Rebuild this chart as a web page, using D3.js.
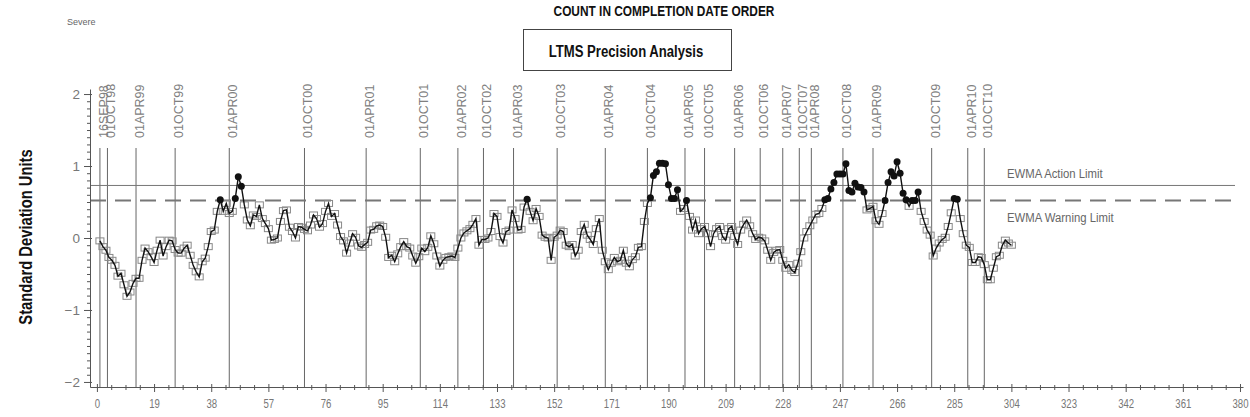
<!DOCTYPE html>
<html>
<head>
<meta charset="utf-8">
<script src="https://cdn.jsdelivr.net/npm/d3@7"></script>
<style>
  body { margin: 0; background: #fff; }
  svg { display: block; }
</style>
</head>
<body>
<div id="chart"></div>
<script>
// EWMA values, one per test in completion date order (count 1..304)
const ewma = [
  -0.04, -0.12, -0.17, -0.27, -0.31, -0.38, -0.53, -0.49, -0.65, -0.81,
  -0.75, -0.63, -0.56, -0.56, -0.31, -0.14, -0.19, -0.26, -0.34, -0.17,
  -0.03, -0.25, -0.12, -0.03, -0.04, -0.16, -0.21, -0.21, -0.14, -0.10,
  -0.24, -0.38, -0.47, -0.54, -0.33, -0.28, -0.12, 0.09, 0.11, 0.37,
  0.53, 0.37, 0.48, 0.34, 0.37, 0.55, 0.85, 0.72, 0.46, 0.25,
  0.17, 0.32, 0.30, 0.46, 0.27, 0.20, 0.13, -0.03, -0.02, 0.00,
  0.23, 0.38, 0.39, 0.15, 0.09, 0.00, 0.16, 0.15, 0.12, 0.10,
  0.18, 0.32, 0.27, 0.15, 0.20, 0.37, 0.48, 0.30, 0.34, 0.18,
  0.02, -0.04, -0.21, -0.07, 0.06, 0.01, -0.11, -0.13, -0.09, -0.06,
  0.11, 0.12, 0.17, 0.18, 0.16, 0.01, -0.27, -0.24, -0.33, -0.22,
  -0.12, -0.05, -0.12, -0.14, -0.25, -0.35, -0.26, -0.14, -0.19, -0.13,
  0.03, -0.08, -0.25, -0.39, -0.31, -0.27, -0.26, -0.25, -0.27, -0.14,
  0.00, 0.07, 0.10, 0.13, 0.19, 0.27, -0.10, -0.02, -0.02, 0.00,
  0.09, 0.34, 0.30, 0.02, -0.07, 0.09, 0.11, 0.39, 0.27, 0.11,
  0.12, 0.43, 0.54, 0.37, 0.24, 0.41, 0.30, 0.04, 0.01, 0.00,
  -0.31, 0.01, 0.04, 0.11, 0.09, -0.10, -0.12, -0.09, -0.25, -0.17,
  0.09, 0.19, 0.04, -0.02, -0.09, 0.13, 0.27, -0.17, -0.33, -0.44,
  -0.35, -0.27, -0.33, -0.31, -0.17, -0.35, -0.40, -0.30, -0.26, -0.13,
  -0.12, 0.23, 0.48, 0.56, 0.87, 0.92, 1.04, 1.04, 1.03, 0.74,
  0.55, 0.55, 0.67, 0.37, 0.41, 0.52, 0.30, 0.11, 0.25, 0.06,
  0.13, 0.16, 0.06, -0.12, 0.06, 0.13, 0.16, 0.02, -0.03, 0.13,
  0.16, 0.02, -0.09, 0.11, 0.19, 0.25, 0.17, 0.06, -0.02, 0.01,
  0.00, -0.04, -0.17, -0.31, -0.20, -0.17, -0.16, -0.31, -0.42, -0.37,
  -0.45, -0.48, -0.35, -0.19, 0.00, 0.09, 0.17, 0.25, 0.33, 0.34,
  0.41, 0.53, 0.55, 0.68, 0.77, 0.89, 0.89, 0.89, 1.03, 0.66,
  0.64, 0.76, 0.71, 0.70, 0.64, 0.39, 0.41, 0.44, 0.24, 0.19,
  0.34, 0.52, 0.77, 0.92, 0.86, 1.06, 0.90, 0.62, 0.53, 0.44,
  0.52, 0.52, 0.64, 0.37, 0.23, 0.11, 0.04, -0.25, -0.14, -0.07,
  -0.02, 0.01, 0.16, 0.35, 0.55, 0.54, 0.27, 0.06, -0.10, -0.13,
  -0.34, -0.34, -0.26, -0.27, -0.37, -0.58, -0.58, -0.42, -0.26, -0.24,
  -0.10, -0.03, -0.07, -0.10
];

// date reference lines: label and the count where it falls
const dateLabels = ["16SEP98", "01OCT98", "01APR99", "01OCT99", "01APR00", "01OCT00",
  "01APR01", "01OCT01", "01APR02", "01OCT02", "01APR03", "01OCT03", "01APR04",
  "01OCT04", "01APR05", "01OCT05", "01APR06", "01OCT06", "01APR07", "01OCT07",
  "01APR08", "01OCT08", "01APR09", "01OCT09", "01APR10", "01OCT10"];
const dateCounts = [1, 3.5, 13, 26, 44, 69, 89.5, 107.5, 120, 128.5, 138.5, 153, 169,
  183, 195.5, 202, 212, 220.5, 228, 233.5, 237.5, 248, 258, 277.5, 289.5, 295];

const xTicks = [0, 19, 38, 57, 76, 95, 114, 133, 152, 171, 190, 209, 228, 247, 266, 285, 304, 323, 342, 361, 380];
const yTicks = [-2, -1, 0, 1, 2];

const actionLimit = 0.73;
const warningLimit = 0.52;

// Dimensions
const W = 1250, H = 417;
const svg = d3.select("#chart").append("svg")
  .attr("width", W).attr("height", H);

const x = d3.scaleLinear().domain([-2.3, 381]).range([90, 1243]);
const y = d3.scaleLinear().domain([-2.07, 2.07]).range([387, 89]);

const points = ewma.map((v, i) => ({count: i + 1, value: v}));

const sans = "'Liberation Sans', Arial, sans-serif";

// Titles (squeezed horizontally to look like a narrow face)
svg.append("text")
  .attr("transform", "translate(664,16) scale(0.82,1)")
  .attr("text-anchor", "middle")
  .style("font-family", sans)
  .style("font-weight", "bold").style("font-size", "14.5px")
  .attr("fill", "#111")
  .text("COUNT IN COMPLETION DATE ORDER");

svg.append("rect")
  .attr("x", 523.5).attr("y", 29.5).attr("width", 208).attr("height", 41)
  .attr("fill", "none").attr("stroke", "#444").attr("stroke-width", 1);

svg.append("text")
  .attr("transform", "translate(626,57) scale(0.82,1)")
  .attr("text-anchor", "middle")
  .style("font-family", sans)
  .style("font-weight", "bold").style("font-size", "16px")
  .attr("fill", "#111")
  .text("LTMS Precision Analysis");

svg.append("text")
  .attr("x", 67).attr("y", 25)
  .style("font-family", sans)
  .style("font-size", "9px").attr("fill", "#666")
  .text("Severe");

svg.append("text")
  .attr("transform", "translate(32,237) rotate(-90) scale(0.82,1)")
  .attr("text-anchor", "middle")
  .style("font-family", sans)
  .style("font-weight", "bold").style("font-size", "18px")
  .attr("fill", "#111")
  .text("Standard Deviation Units");

// Date reference lines
const refs = svg.append("g");
refs.selectAll("line")
  .data(dateCounts)
  .enter()
  .append("line")
  .attr("x1", d => x(d)).attr("x2", d => x(d))
  .attr("y1", 148).attr("y2", y(-2.07))
  .attr("stroke", "#666").attr("stroke-width", 1);

refs.selectAll("text")
  .data(dateLabels)
  .enter()
  .append("text")
  .attr("transform", (d, i) => `translate(${x(dateCounts[i]) + 8},138) rotate(-90)`)
  .style("font-family", sans)
  .style("font-size", "12.5px").attr("fill", "#808080")
  .text(d => d);

// Limit lines
svg.append("line")
  .attr("x1", 90).attr("x2", 1235)
  .attr("y1", y(actionLimit)).attr("y2", y(actionLimit))
  .attr("stroke", "#777").attr("stroke-width", 1);

svg.append("line")
  .attr("x1", 90).attr("x2", 1235)
  .attr("y1", y(warningLimit)).attr("y2", y(warningLimit))
  .attr("stroke", "#777").attr("stroke-width", 2)
  .attr("stroke-dasharray", "16,9");

svg.append("text")
  .attr("transform", `translate(1007,${y(actionLimit) - 7}) scale(0.84,1)`)
  .style("font-family", sans)
  .style("font-size", "13.5px").attr("fill", "#666")
  .text("EWMA Action Limit");

svg.append("text")
  .attr("transform", `translate(1007,${y(warningLimit) + 21}) scale(0.84,1)`)
  .style("font-family", sans)
  .style("font-size", "13.5px").attr("fill", "#666")
  .text("EWMA Warning Limit");

// Axes
const axisColor = "#555";

const yMinor = d3.range(-20, 21).filter(k => k % 10 !== 0).map(k => k / 10);
svg.append("g")
  .attr("transform", "translate(90,0)")
  .call(d3.axisLeft(y).tickValues(yMinor).tickSize(3).tickSizeOuter(0).tickFormat(""))
  .call(g => g.select(".domain").remove())
  .call(g => g.selectAll("line").attr("stroke", axisColor));

const yAxis = svg.append("g")
  .attr("transform", "translate(90,0)")
  .call(d3.axisLeft(y).tickValues(yTicks).tickSize(6).tickSizeOuter(0).tickPadding(4).tickFormat(d3.format("d")));
yAxis.select(".domain").attr("stroke", axisColor);
yAxis.selectAll(".tick line").attr("stroke", axisColor).attr("x2", -6).attr("x1", 2);
yAxis.selectAll("text")
  .style("font-family", sans)
  .style("font-size", "13.5px").attr("fill", "#777");

const xMinor = d3.range(0, 81).filter(k => k % 4 !== 0).map(k => k * 4.75);
svg.append("g")
  .attr("transform", `translate(0,${y(-2.07)})`)
  .call(d3.axisBottom(x).tickValues(xMinor).tickSize(3).tickSizeOuter(0).tickFormat(""))
  .call(g => g.select(".domain").remove())
  .call(g => g.selectAll("line").attr("stroke", axisColor).attr("y1", -2));

const xAxis = svg.append("g")
  .attr("transform", `translate(0,${y(-2.07)})`)
  .call(d3.axisBottom(x).tickValues(xTicks).tickSize(5).tickSizeOuter(0).tickPadding(7));
xAxis.select(".domain").attr("stroke", axisColor);
xAxis.selectAll(".tick line").attr("stroke", axisColor).attr("y1", -3);
xAxis.selectAll("text")
  .attr("transform", "scale(0.8,1)")
  .style("font-family", sans)
  .style("font-size", "12px").attr("fill", "#777");

// EWMA series: squares, line, filled points beyond the warning limit
svg.append("g")
  .selectAll("rect")
  .data(points.filter(d => d.value < warningLimit))
  .enter()
  .append("rect")
  .attr("x", d => x(d.count) - 4).attr("y", d => y(d.value) - 3)
  .attr("width", 8).attr("height", 6)
  .attr("fill", "none").attr("stroke", "#888").attr("stroke-width", 1);

const line = d3.line()
  .x(d => x(d.count))
  .y(d => y(d.value));

svg.append("path")
  .datum(points)
  .attr("d", line)
  .attr("fill", "none").attr("stroke", "#111").attr("stroke-width", 1.4);

svg.append("g")
  .selectAll("circle")
  .data(points.filter(d => d.value >= warningLimit))
  .enter()
  .append("circle")
  .attr("cx", d => x(d.count)).attr("cy", d => y(d.value))
  .attr("r", 3.5)
  .attr("fill", "#111");
</script>
</body>
</html>
